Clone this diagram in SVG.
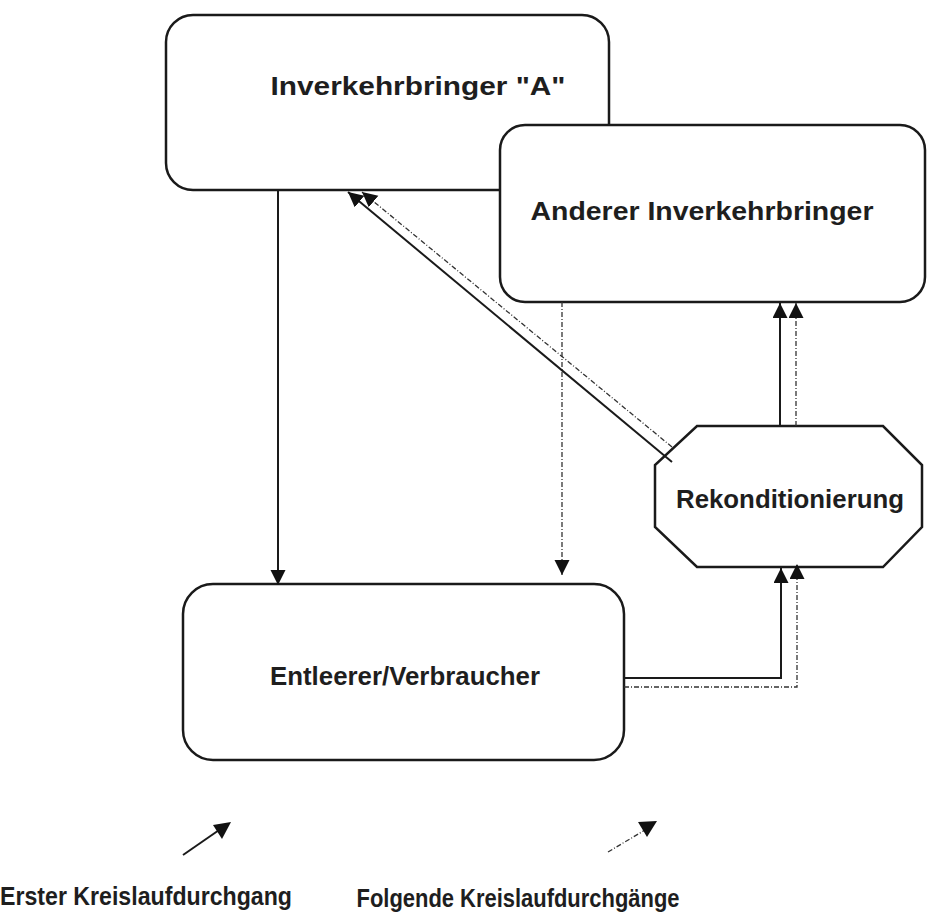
<svg xmlns="http://www.w3.org/2000/svg" width="927" height="922" viewBox="0 0 927 922">
<style>
.box{fill:#fff;stroke:#1a1a1a;stroke-width:2.5}
.lbl{font-family:"Liberation Sans",Arial,sans-serif;font-weight:bold;font-size:25px;fill:#1e1e1e;text-anchor:middle}
.solid{fill:none;stroke:#1a1a1a;stroke-width:2}
.dash{fill:none;stroke:#333;stroke-width:1.3;stroke-dasharray:5 2 1 2}
</style>
<defs>
<marker id="ah" markerUnits="userSpaceOnUse" markerWidth="16" markerHeight="16" refX="15" refY="7.5" orient="auto">
<path d="M0,0 L15,7.5 L0,15 z" fill="#111"/>
</marker>
</defs>
<rect width="927" height="922" fill="#fff"/>
<g id="inverkehrbringer-a">
<rect class="box" x="166" y="15" width="443" height="175" rx="27"/>
<text class="lbl" x="418" y="95" textLength="295" lengthAdjust="spacingAndGlyphs">Inverkehrbringer "A"</text>
</g>
<g id="anderer-inverkehrbringer">
<rect class="box" x="500" y="125" width="425" height="177" rx="25"/>
<text class="lbl" x="702" y="220" textLength="343" lengthAdjust="spacingAndGlyphs">Anderer Inverkehrbringer</text>
</g>
<g id="entleerer">
<rect class="box" x="183" y="584" width="441" height="176" rx="30"/>
<text class="lbl" x="405" y="685" textLength="270" lengthAdjust="spacingAndGlyphs">Entleerer/Verbraucher</text>
</g>
<g id="rekonditionierung">
<polygon class="box" points="697,426 883,426 922,465 922,527 883,567 697,567 655,527 655,465"/>
<text class="lbl" x="790" y="508" textLength="228" lengthAdjust="spacingAndGlyphs">Rekonditionierung</text>
</g>
<g id="connectors">
<path class="solid" d="M278,190 V585" marker-end="url(#ah)"/>
<path class="dash" d="M562,302 V575" marker-end="url(#ah)"/>
<path class="solid" d="M624,678 H781 V568" marker-end="url(#ah)"/>
<path class="dash" d="M624,687 H797 V564" marker-end="url(#ah)"/>
<path class="solid" d="M780,426 V303" marker-end="url(#ah)"/>
<path class="dash" d="M796,426 V303" marker-end="url(#ah)"/>
<path class="solid" d="M672,462 L348,192" marker-end="url(#ah)"/>
<path class="dash" d="M672,447 L362,192" marker-end="url(#ah)"/>
</g>
<g id="legend">
<path class="solid" d="M183,855 L222,828"/>
<polygon points="213,825 231,822 222,839" fill="#111"/>
<path class="dash" d="M608,852 L645,830"/>
<polygon points="638,822 657,821 647,837" fill="#111"/>
<text class="lbl" x="146" y="905" textLength="292" lengthAdjust="spacingAndGlyphs">Erster Kreislaufdurchgang</text>
<text class="lbl" x="518" y="907" textLength="323" lengthAdjust="spacingAndGlyphs">Folgende Kreislaufdurchgänge</text>
</g>
</svg>
